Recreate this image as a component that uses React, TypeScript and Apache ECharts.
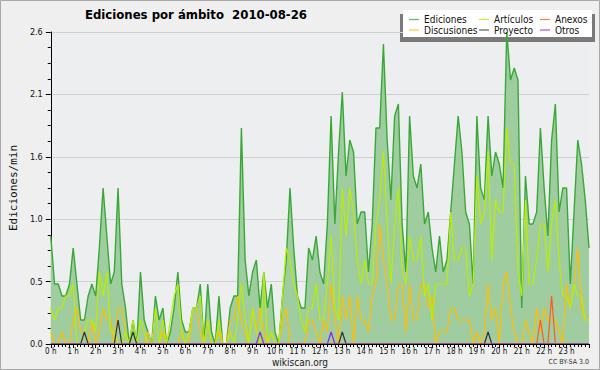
import React, { useEffect, useRef } from "react";
import * as echarts from "echarts";

// x positions: one point every 10 minutes, 0 = 00:00, 144 = 24:00
const hourLabels = [
  "0 h", "1 h", "2 h", "3 h", "4 h", "5 h", "6 h", "7 h", "8 h", "9 h", "10 h", "11 h",
  "12 h", "13 h", "14 h", "15 h", "16 h", "17 h", "18 h", "19 h", "20 h", "21 h", "22 h", "23 h",
];
const yTickValues = [0, 0.52, 1.04, 1.56, 2.08, 2.6];

const ediciones = [
  0.9, 0.5, 0.5, 0.4, 0.4, 0.5, 0.8, 0.5, 0.2, 0.2,
  0.4, 0.5, 0.4, 0.8, 1.3, 0.9, 0.5, 0.6, 1.3, 0.5,
  0.3, 0.0, 0.2, 0.0, 0.6, 0.2, 0.1, 0.0, 0.4, 0.2,
  0.3, 0.0, 0.1, 0.3, 0.6, 0.2, 0.1, 0.1, 0.3, 0.3,
  0.5, 0.0, 0.5, 0.1, 0.0, 0.4, 0.0, 0.0, 0.3, 0.4,
  0.4, 1.8, 0.7, 0.4, 0.6, 0.7, 0.3, 0.6, 0.3, 0.5,
  0.1, 0.0, 0.4, 0.7, 1.3, 0.8, 0.4, 0.3, 0.3, 0.8,
  0.7, 0.9, 0.6, 0.5, 1.0, 1.9, 1.0, 1.6, 2.1, 1.4,
  1.7, 1.6, 1.0, 1.1, 1.1, 0.6, 1.0, 1.8, 1.8, 2.5,
  1.7, 1.2, 1.9, 2.0, 1.0, 0.6, 1.9, 1.4, 1.3, 1.5,
  1.0, 1.1, 0.8, 0.6, 0.9, 0.6, 0.7, 1.1, 1.5, 1.9,
  1.6, 1.1, 1.0, 0.5, 1.9, 1.3, 1.2, 1.9, 1.4, 1.6,
  1.5, 1.3, 2.6, 2.2, 2.3, 2.2, 0.3, 1.4, 1.0, 1.0,
  1.1, 1.8, 1.3, 0.9, 1.7, 2.0, 1.1, 1.3, 1.3, 0.5,
  1.1, 1.7, 1.5, 1.2, 0.8,
];

const articulos = [
  0.3, 0.2, 0.3, 0.3, 0.4, 0.4, 0.5, 0.0, 0.0, 0.1,
  0.2, 0.2, 0.1, 0.6, 0.4, 0.6, 0.1, 0.1, 0.0, 0.0,
  0.1, 0.0, 0.2, 0.0, 0.2, 0.1, 0.0, 0.0, 0.3, 0.0,
  0.2, 0.0, 0.2, 0.4, 0.5, 0.1, 0.0, 0.1, 0.3, 0.3,
  0.4, 0.0, 0.2, 0.0, 0.0, 0.2, 0.0, 0.0, 0.1, 0.0,
  0.2, 0.5, 0.2, 0.0, 0.3, 0.1, 0.0, 0.6, 0.0, 0.1,
  0.0, 0.0, 0.4, 0.8, 0.7, 0.5, 0.4, 0.2, 0.1, 0.3,
  0.3, 0.5, 0.2, 0.2, 0.5, 0.9, 0.3, 0.2, 1.3, 0.9,
  1.3, 1.1, 0.7, 0.5, 0.7, 0.5, 0.5, 1.0, 1.2, 1.6,
  1.0, 0.5, 1.0, 1.3, 0.6, 0.5, 0.9, 0.7, 0.7, 0.9,
  0.4, 0.5, 0.2, 0.5, 0.5, 0.5, 0.5, 1.1, 0.7, 0.7,
  0.8, 0.8, 0.4, 0.5, 1.4, 1.0, 1.1, 1.6, 0.7, 1.2,
  1.1, 1.1, 1.8, 1.5, 1.5, 0.6, 0.4, 1.2, 0.5, 0.5,
  0.7, 1.0, 1.0, 0.6, 1.0, 1.2, 0.7, 0.4, 0.4, 0.3,
  0.5, 0.4, 0.4, 0.2, 0.2,
];

const discusiones = [
  0.1, 0.0, 0.0, 0.1, 0.0, 0.0, 0.2, 0.3, 0.1, 0.1,
  0.0, 0.2, 0.0, 0.1, 0.3, 0.2, 0.2, 0.0, 0.3, 0.3,
  0.1, 0.0, 0.0, 0.0, 0.0, 0.0, 0.1, 0.0, 0.0, 0.0,
  0.1, 0.0, 0.0, 0.0, 0.0, 0.1, 0.0, 0.0, 0.3, 0.3,
  0.1, 0.0, 0.2, 0.0, 0.0, 0.1, 0.0, 0.0, 0.2, 0.2,
  0.4, 0.2, 0.1, 0.0, 0.3, 0.1, 0.3, 0.1, 0.0, 0.1,
  0.0, 0.0, 0.2, 0.3, 0.0, 0.0, 0.0, 0.0, 0.0, 0.2,
  0.2, 0.1, 0.0, 0.2, 0.1, 0.5, 0.2, 0.0, 0.4, 0.2,
  0.4, 0.0, 0.4, 0.2, 0.2, 0.1, 0.4, 0.5, 1.0, 0.7,
  0.5, 0.2, 0.2, 0.5, 0.5, 0.1, 0.5, 0.2, 0.2, 0.5,
  0.5, 0.3, 0.4, 0.0, 0.1, 0.1, 0.1, 0.3, 0.3, 0.2,
  0.2, 0.2, 0.2, 0.0, 0.1, 0.0, 0.1, 0.5, 0.2, 0.3,
  0.0, 0.5, 0.6, 0.3, 0.1, 0.0, 0.0, 0.2, 0.1, 0.0,
  0.3, 0.1, 0.3, 0.2, 0.2, 0.2, 0.1, 0.0, 0.5, 0.3,
  0.5, 0.8, 0.3, 0.2, 0.2,
];

// sparse series: [slot index, value]
const proyecto: [number, number][] = [[9, 0.1], [18, 0.2], [22, 0.1], [78, 0.1], [117, 0.1]];
const anexos: [number, number][] = [[131, 0.2], [134, 0.4]];
const otros: [number, number][] = [[56, 0.1], [75, 0.1]];

const seriesNames = ["Ediciones", "Artículos", "Anexos", "Discusiones", "Proyecto", "Otros"];
const seriesColors = ["#39a837", "#b8ee00", "#ff5a1e", "#ffbf00", "#333333", "#8a2be2"];

const SLOTS = 145;

function dense(values: number[]) {
  return values.map((v, i) => [i, v]);
}
function sparse(points: [number, number][]) {
  const m = new Map(points);
  const out: number[][] = [];
  for (let i = 0; i < SLOTS; i++) out.push([i, m.get(i) ?? 0]);
  return out;
}

const condensed = '"DejaVu Sans Condensed", "Liberation Sans Narrow", "DejaVu Sans", sans-serif';
const LINE_ICON = "path://M0,0H10V1.2H0Z";

export default function App() {
  const ref = useRef<HTMLDivElement>(null);
  useEffect(() => {
    if (!ref.current) return;
    const chart = echarts.init(ref.current, undefined, { renderer: "svg" });
    const lineSeries = (name: string, data: number[][], width = 1.2) => ({
      name,
      type: "line",
      data,
      symbol: "none",
      showSymbol: false,
      silent: true,
      lineStyle: { width, color: seriesColors[seriesNames.indexOf(name)] },
      itemStyle: { color: seriesColors[seriesNames.indexOf(name)] },
    });
    const legendCommon = {
      orient: "vertical",
      padding: 0,
      icon: LINE_ICON,
      itemWidth: 10,
      itemHeight: 10,
      itemGap: 0.5,
      selectedMode: false,
      itemStyle: { opacity: 0.8 },
      textStyle: { fontFamily: condensed, fontSize: 10, color: "#111", lineHeight: 10 },
    };
    chart.setOption({
      animation: false,
      backgroundColor: "#efefef",
      title: [
        {
          text: "Ediciones por ámbito  2010-08-26",
          left: 85,
          top: 8,
          padding: 0,
          textStyle: { fontFamily: condensed, fontSize: 13, fontWeight: "bold", color: "#000" },
        },
        {
          text: "wikiscan.org",
          left: "center",
          top: 357,
          padding: 0,
          textStyle: { fontFamily: condensed, fontSize: 10, lineHeight: 10, fontWeight: "normal", color: "#222" },
        },
        {
          text: "CC BY-SA 3.0",
          right: 11,
          top: 358,
          padding: 0,
          textStyle: { fontFamily: condensed, fontSize: 7, fontWeight: "normal", color: "#333" },
        },
      ],
      graphic: [
        { type: "rect", shape: { x: 0.5, y: 0.5, width: 599, height: 369 }, style: { fill: "none", stroke: "#a8a8a8", lineWidth: 1 }, z: 0 },
        { type: "rect", shape: { x: 400, y: 14, width: 195, height: 28 }, style: { fill: "#7a7a7a" }, z: 0 },
        { type: "rect", shape: { x: 403, y: 10, width: 189, height: 27 }, style: { fill: "#ffffff" }, z: 1 },
      ],
      legend: [
        { ...legendCommon, data: ["Ediciones", "Discusiones"], left: 409, top: 14.5, z: 10 },
        { ...legendCommon, data: ["Artículos", "Proyecto"], left: 479, top: 14.5, z: 10 },
        { ...legendCommon, data: ["Anexos", "Otros"], left: 540, top: 14.5, z: 10 },
      ],
      grid: {
        left: 46,
        right: 11,
        top: 32,
        bottom: 26,
        show: true,
        backgroundColor: "#eceef0",
        borderWidth: 0,
      },
      xAxis: {
        type: "value",
        min: 0,
        max: 144,
        interval: 6,
        z: 5,
        axisLine: { show: true, onZero: false, lineStyle: { color: "#000", width: 1 } },
        axisTick: { show: true, length: 4, lineStyle: { color: "#000" } },
        minorTick: { show: true, splitNumber: 6, length: 3, lineStyle: { color: "#000" } },
        splitLine: { show: false },
        minorSplitLine: { show: false },
        axisLabel: {
          margin: 3,
          fontSize: 8,
          lineHeight: 9,
          fontFamily: condensed,
          color: "#111",
          showMaxLabel: false,
          formatter: (v: number) => hourLabels[Math.round(v / 6)] ?? "",
        },
      },
      yAxis: {
        type: "value",
        min: yTickValues[0],
        max: yTickValues[yTickValues.length - 1],
        interval: yTickValues[1],
        name: "Ediciones/min",
        nameLocation: "middle",
        nameGap: 27,
        nameTextStyle: { fontFamily: '"DejaVu Sans Mono", monospace', fontSize: 11, color: "#111" },
        axisLine: { show: true, lineStyle: { color: "#000", width: 1 } },
        axisTick: { show: true, length: 5, lineStyle: { color: "#000" } },
        minorTick: { show: true, splitNumber: 4, length: 3, lineStyle: { color: "#000" } },
        splitLine: { show: true, lineStyle: { color: "#cfcfcf", width: 1 } },
        axisLabel: {
          margin: 8,
          fontSize: 9,
          fontFamily: condensed,
          color: "#111",
          formatter: (v: number) => v.toFixed(1),
        },
      },
      series: [
        {
          ...lineSeries("Ediciones", dense(ediciones), 1.4),
          areaStyle: { color: "#9fcd9f", opacity: 1 },
        },
        lineSeries("Discusiones", dense(discusiones)),
        lineSeries("Artículos", dense(articulos)),
        lineSeries("Proyecto", sparse(proyecto)),
        lineSeries("Anexos", sparse(anexos)),
        lineSeries("Otros", sparse(otros)),
      ],
    });
    return () => chart.dispose();
  }, []);
  return <div ref={ref} style={{ position: "absolute", left: 0, top: 0, width: 600, height: 370 }} />;
}
